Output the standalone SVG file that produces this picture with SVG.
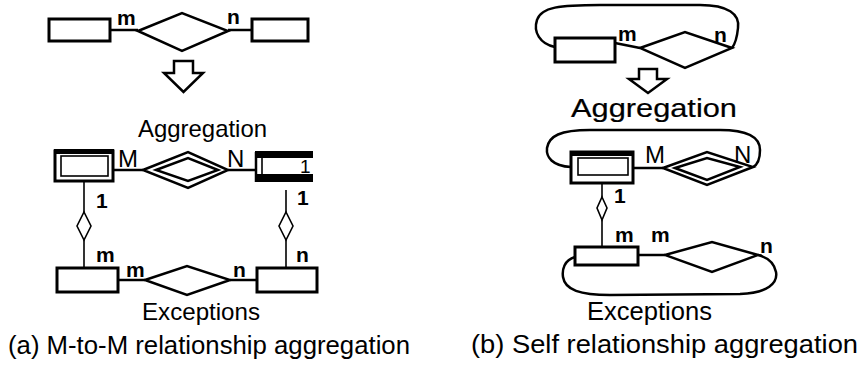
<svg xmlns="http://www.w3.org/2000/svg" width="862" height="365" viewBox="0 0 862 365">
  <style>
    .ln { fill: none; stroke: #000; stroke-width: 2.5; stroke-linejoin: miter; }
    .thin { fill: none; stroke: #000; stroke-width: 1.6; }
    .ent { fill: #fff; stroke: #000; stroke-width: 3; }
    .bar { fill: #000; }
    .lbl { font-family: "Liberation Sans", Arial, sans-serif; font-size: 21px; font-weight: bold; fill: #000; }
    .card { font-family: "Liberation Sans", Arial, sans-serif; font-size: 24px; fill: #000; }
    .one { font-family: "Liberation Sans", Arial, sans-serif; font-size: 21px; font-weight: bold; fill: #000; }
    .title { font-family: "Liberation Sans", Arial, sans-serif; font-size: 24px; fill: #000; }
    .big { font-family: "Liberation Sans", Arial, sans-serif; font-size: 26px; fill: #000; }
  </style>

  <!-- ===== (a) M-to-M relationship aggregation ===== -->
  <g id="a-source">
    <rect class="ent" x="49" y="19" width="61" height="22"/>
    <polygon class="ln" points="138,31 182,13 228,31 182,51"/>
    <rect class="ent" x="252" y="19" width="56" height="22"/>
    <text class="lbl" x="117" y="25">m</text>
    <text class="lbl" x="227" y="24">n</text>
  </g>

  <g id="a-arrow">
    <polygon class="ln" points="174,61 193,61 193,73 203,73 183.5,92 164,73 174,73"/>
  </g>

  <g id="a-aggregation">
    <text class="title" x="138" y="137" textLength="129" lengthAdjust="spacingAndGlyphs">Aggregation</text>
    <!-- left aggregated entity (double box) -->
    <rect class="ent" x="55" y="151" width="58" height="30"/>
    <rect class="bar" x="54" y="149" width="60" height="5"/>
    <rect class="thin" x="61" y="156" width="47" height="20"/>
    <!-- relationship as double diamond -->
    <polygon class="ln" points="143,170 188,152 228,170 188,188"/>
    <polygon class="ln" points="156,170 188,158 218,170 188,181"/>
    <!-- right aggregated entity -->
    <rect class="bar" x="255" y="151" width="58" height="7"/>
    <rect class="bar" x="255" y="174" width="58" height="8"/>
    <line class="ln" x1="256" y1="152" x2="256" y2="182"/>
    <line class="thin" x1="262" y1="156" x2="262" y2="178"/>
    <text class="card" x="118" y="167">M</text>
    <text class="card" x="227" y="167">N</text>
    <text class="card" x="300" y="173" style="font-size:19px">1</text>
  </g>

  <g id="a-exceptions">
    <rect class="ent" x="57" y="268" width="61" height="24"/>
    <polygon class="ln" points="145,280 187,266 230,280 187,295"/>
    <rect class="ent" x="257" y="268" width="60" height="24"/>
    <text class="lbl" x="96" y="262">m</text>
    <text class="lbl" x="126" y="277">m</text>
    <text class="lbl" x="233" y="277">n</text>
    <text class="lbl" x="296" y="262">n</text>
    <text class="title" x="142" y="320" textLength="118" lengthAdjust="spacingAndGlyphs">Exceptions</text>
  </g>

  <g id="a-connectors">
    <line class="ln" x1="110" y1="30" x2="138" y2="30"/>
    <line class="ln" x1="228" y1="30" x2="252" y2="30"/>
    <line class="ln" x1="113" y1="170" x2="143" y2="170"/>
    <line class="ln" x1="228" y1="170" x2="255" y2="170"/>
    <line class="ln" x1="118" y1="280" x2="145" y2="280"/>
    <line class="ln" x1="230" y1="280" x2="257" y2="280"/>
    <!-- left part-of link -->
    <line class="thin" x1="84" y1="182" x2="84" y2="212"/>
    <polygon class="thin" points="84,212 91,226 84,240 77,226"/>
    <line class="thin" x1="84" y1="240" x2="84" y2="268"/>
    <text class="one" x="96" y="208">1</text>
    <!-- right part-of link -->
    <line class="thin" x1="286" y1="190" x2="286" y2="212"/>
    <polygon class="thin" points="286,212 293,226 286,240 279,226"/>
    <line class="thin" x1="286" y1="240" x2="286" y2="268"/>
    <text class="one" x="297" y="205">1</text>
  </g>

  <text class="big" x="8" y="354" textLength="402" lengthAdjust="spacingAndGlyphs">(a) M-to-M relationship aggregation</text>

  <!-- ===== (b) Self relationship aggregation ===== -->
  <g id="b-source">
    <rect class="ent" x="555" y="38" width="60" height="24"/>
    <polygon class="ln" points="640,48 685,32 732,48 685,68"/>
    <text class="lbl" x="618" y="41">m</text>
    <text class="lbl" x="714" y="42">n</text>
  </g>

  <g id="b-arrow">
    <polygon class="ln" points="639,69 657,69 657,79 667,79 648,93 629,79 639,79"/>
  </g>

  <g id="b-aggregation">
    <text class="title" x="571" y="117" style="font-size:26px;stroke:#000;stroke-width:0.2" textLength="166" lengthAdjust="spacingAndGlyphs">Aggregation</text>
    <rect class="ent" x="571" y="152" width="62" height="31"/>
    <rect class="bar" x="570" y="151" width="64" height="5"/>
    <rect class="thin" x="578" y="158" width="50" height="17"/>
    <polygon class="ln" points="663,168 707,152 753,167 707,185"/>
    <polygon class="ln" points="675,168 707,158 740,167 707,180"/>
    <text class="card" x="645" y="163">M</text>
    <text class="card" x="734" y="163">N</text>
    <text class="one" x="614" y="203">1</text>
  </g>

  <g id="b-exceptions">
    <rect class="ent" x="575" y="247" width="63" height="18"/>
    <polygon class="ln" points="665,255 712,242 758,255 712,272"/>
    <text class="lbl" x="615" y="242">m</text>
    <text class="lbl" x="651" y="242">m</text>
    <text class="lbl" x="760" y="253">n</text>
    <text class="title" x="587" y="320" style="font-size:25px" textLength="125" lengthAdjust="spacingAndGlyphs">Exceptions</text>
  </g>

  <g id="b-connectors">
    <!-- source self loop -->
    <path class="ln" d="M555,47 C540,44 533,32 537,20 C541,7 560,5 600,5 L700,5 C728,5 740,14 738,28 C737,38 735,44 732,48"/>
    <line class="ln" x1="615" y1="43" x2="640" y2="48"/>
    <!-- aggregation self loop -->
    <path class="ln" d="M571,167 C552,166 546,157 547,148 C549,136 560,130 590,130 L720,130 C748,130 760,138 760,150 C760,160 757,165 753,167"/>
    <line class="ln" x1="633" y1="168" x2="663" y2="168"/>
    <!-- part-of link -->
    <line class="thin" x1="602" y1="183" x2="602" y2="197"/>
    <polygon class="thin" points="602,197 607,208 602,220 597,208"/>
    <line class="thin" x1="602" y1="220" x2="602" y2="247"/>
    <!-- exceptions self loop -->
    <line class="ln" x1="638" y1="255" x2="665" y2="255"/>
    <path class="ln" d="M575,257 C564,260 562,270 563,277 C565,290 580,295 610,295 L740,294 C768,293 778,283 776,272 C774,262 766,257 758,255"/>
  </g>

  <text class="big" x="471" y="353" textLength="387" lengthAdjust="spacingAndGlyphs">(b) Self relationship aggregation</text>
</svg>
